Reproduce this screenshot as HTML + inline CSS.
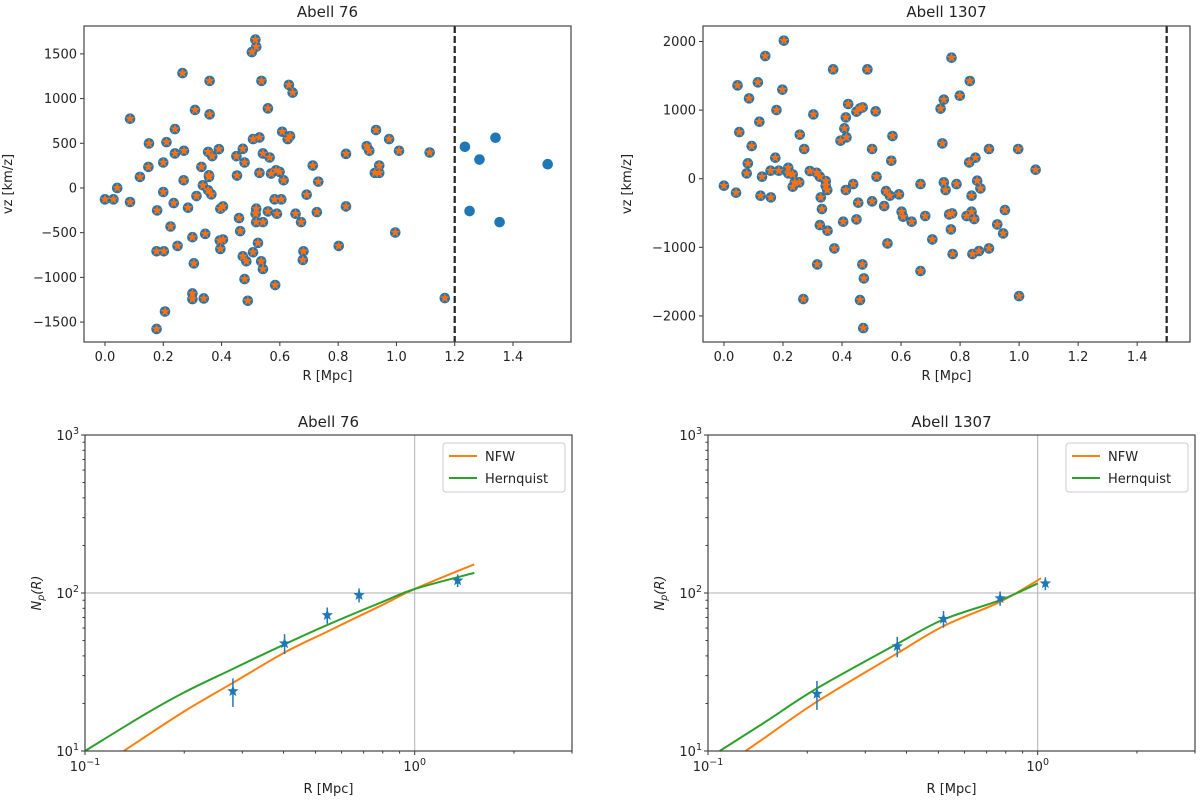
<!DOCTYPE html>
<html><head><meta charset="utf-8"><style>
body{margin:0;background:#fff;}
svg{display:block;font-family:"DejaVu Sans","Liberation Sans",sans-serif;}
</style></head><body>
<svg id="fig" width="1200" height="805" viewBox="0 0 1200 805" xmlns="http://www.w3.org/2000/svg"></svg>
<script>
// ---- Abell 76 velocity data ----
const a76R = [0.516,0.519,0.504,0.266,0.359,0.537,0.631,0.644,0.309,0.359,0.559,0.086,0.240,0.608,0.635,0.627,0.151,0.211,0.508,0.530,0.240,0.271,0.354,0.368,0.391,0.473,0.451,0.479,0.542,0.565,0.149,0.200,0.331,0.120,0.270,0.357,0.357,0.453,0.530,0.570,0.587,0.599,0.613,0.713,0.732,0.827,0.898,0.907,0.930,0.975,1.009,1.114,0.941,0.926,0.941,0.042,0.0,0.029,0.086,0.200,0.336,0.354,0.365,0.314,0.236,0.179,0.285,0.396,0.405,0.519,0.517,0.559,0.590,0.582,0.605,0.654,0.692,0.727,0.827,0.460,0.519,0.542,0.673,0.225,0.464,0.300,0.344,0.394,0.405,0.396,0.249,0.177,0.202,0.525,0.508,0.473,0.485,0.536,0.542,0.681,0.679,0.802,0.996,0.305,0.479,0.584,0.300,0.300,0.339,0.490,1.166,0.206,0.177];
const a76V = [1660,1580,1520,1285,1198,1198,1153,1067,873,824,891,775,659,629,580,547,498,513,547,565,386,416,404,356,434,438,356,285,386,341,236,285,236,124,86,142,124,139,169,161,198,180,86,251,71,382,468,416,648,547,416,397,251,169,169,0,-127,-127,-157,-45,30,-26,-71,-90,-169,-251,-221,-232,-206,-232,-288,-262,-288,-127,-127,-288,-75,-270,-206,-337,-382,-382,-382,-431,-483,-551,-513,-588,-577,-682,-648,-708,-708,-614,-719,-764,-820,-820,-906,-708,-805,-648,-498,-843,-1019,-1086,-1180,-1243,-1236,-1262,-1232,-1382,-1577];
const a76OutR = [1.235,1.340,1.285,1.519,1.251,1.354];
const a76OutV = [461,562,318,266,-258,-382];
const a76Cut = 1.2;
// ---- Abell 1307 velocity data ----
const a1307R = [0.203,0.140,0.771,0.370,0.486,0.046,0.115,0.198,0.833,0.085,0.799,0.745,0.734,0.178,0.303,0.421,0.449,0.461,0.470,0.514,0.413,0.120,0.052,0.257,0.408,0.415,0.395,0.571,0.740,0.094,0.272,0.502,0.898,0.997,0.174,0.567,0.831,0.852,1.056,0.081,0.077,0.129,0.158,0.186,0.218,0.218,0.233,0.240,0.255,0.233,0.291,0.314,0.325,0.345,0.345,0.350,0.517,0.438,0.413,0.666,0.745,0.751,0.788,0.858,0.869,0.839,0.0,0.041,0.124,0.159,0.549,0.562,0.593,0.328,0.332,0.455,0.502,0.543,0.602,0.607,0.636,0.682,0.763,0.773,0.822,0.839,0.848,0.952,0.926,0.946,0.769,0.325,0.351,0.404,0.449,0.706,0.554,0.374,0.775,0.842,0.864,0.898,0.316,0.469,0.666,0.474,0.269,0.461,1.000,0.472];
const a1307V = [2012,1788,1764,1594,1594,1361,1405,1298,1424,1171,1210,1152,1021,1001,938,1089,977,1025,1040,982,894,831,680,642,734,603,554,622,515,476,433,433,433,433,306,262,238,306,131,224,78,29,117,117,160,78,63,-53,-53,-117,112,87,29,-34,-102,-165,29,-78,-165,-78,-53,-165,-78,-29,-141,-248,-102,-204,-248,-272,-180,-248,-228,-272,-442,-350,-330,-399,-481,-554,-627,-544,-520,-505,-544,-481,-588,-457,-666,-797,-739,-676,-758,-627,-593,-885,-943,-1016,-1098,-1098,-1055,-1016,-1249,-1249,-1346,-1453,-1754,-1769,-1711,-2177];
const a1307Cut = 1.5;
// ---- profile data ----
const p76R = [0.281,0.403,0.543,0.678,1.35];
const p76N = [23.9,48,72.4,97,120];
const nfw76X = [0.131,0.2,0.281,0.403,0.543,0.797,1.0,1.516];
const nfw76Y = [10,17.8,27,42,57,84,106,152];
const her76X = [0.1,0.15,0.2,0.28,0.4,0.55,0.8,1.0,1.516];
const her76Y = [10,16.8,23.5,33,47,63.5,88,106,134];
const p1307R = [0.214,0.375,0.518,0.769,1.055];
const p1307N = [23,46,68.6,92.6,115];
const nfw1307X = [0.130,0.150,0.214,0.375,0.518,0.769,1.024];
const nfw1307Y = [10,12.3,20.5,41.5,61.7,88,124];
const her1307X = [0.1085,0.150,0.214,0.375,0.518,0.769,1.0];
const her1307Y = [10,15.4,24.9,47.7,68,90,115];

const NS="http://www.w3.org/2000/svg";
const svg=document.getElementById('fig');
function mk(tag,attrs,parent){const e=document.createElementNS(NS,tag);for(const k in attrs)e.setAttribute(k,attrs[k]);(parent||svg).appendChild(e);return e;}
function txt(s,x,y,attrs,parent){const e=mk('text',Object.assign({x:x,y:y,'font-size':13,fill:'#222'},attrs||{}),parent);e.textContent=s;return e;}
function starPath(cx,cy,r){let d='';for(let i=0;i<10;i++){const rr=i%2?r*0.42:r;const a=-Math.PI/2+i*Math.PI/5;d+=(i?'L':'M')+(cx+rr*Math.cos(a)).toFixed(2)+' '+(cy+rr*Math.sin(a)).toFixed(2);}return d+'Z';}
function smoothPath(P){let d='M'+P[0][0].toFixed(1)+' '+P[0][1].toFixed(1);
  for(let i=0;i<P.length-1;i++){const p0=P[Math.max(0,i-1)],p1=P[i],p2=P[i+1],p3=P[Math.min(P.length-1,i+2)];
    const c1=[p1[0]+(p2[0]-p0[0])/6,p1[1]+(p2[1]-p0[1])/6],c2=[p2[0]-(p3[0]-p1[0])/6,p2[1]-(p3[1]-p1[1])/6];
    d+=' C'+c1[0].toFixed(1)+' '+c1[1].toFixed(1)+' '+c2[0].toFixed(1)+' '+c2[1].toFixed(1)+' '+p2[0].toFixed(1)+' '+p2[1].toFixed(1);}
  return d;}

function scatterPanel(name,box,xr,yr,xt,yt,title,R,V,oR,oV,cut){
  const g=mk('g',{});
  
  
  const sx=v=>box.l+(v-xr[0])/(xr[1]-xr[0])*(box.r-box.l);
  const sy=v=>box.b-(v-yr[0])/(yr[1]-yr[0])*(box.b-box.t);
  const t=txt(title,(box.l+box.r)/2,17,{'text-anchor':'middle','font-size':15},g);
  
  xt.forEach(v=>{const x=sx(v);mk('line',{x1:x,x2:x,y1:box.b,y2:box.b+4,stroke:'#333'},g);
    const l=txt(v.toFixed(1),x,box.b+19,{'text-anchor':'middle'},g);});
  yt.forEach(v=>{const y=sy(v);mk('line',{x1:box.l-4,x2:box.l,y1:y,y2:y,stroke:'#333'},g);
    const l=txt(v<0?'\u2212'+Math.abs(v):String(v),box.l-7,y+4.5,{'text-anchor':'end'},g);});
  const xl=txt('R [Mpc]',(box.l+box.r)/2,box.b+38,{'text-anchor':'middle'},g);
  
  const yc=(box.t+box.b)/2;const yl=txt('vz [km/z]',box.l-72,yc,{'text-anchor':'middle',transform:'rotate(-90 '+(box.l-72)+' '+yc+')'},g);
  
  const pts=mk('g',{},g);
  R.concat(oR).forEach((r,i)=>{const v=i<R.length?V[i]:oV[i-R.length];
    const c=mk('circle',{cx:sx(r),cy:sy(v),r:5.3,fill:'#1f77b4'},pts);});
  R.forEach((r,i)=>{const s=mk('path',{d:starPath(sx(r),sy(V[i]),5.2),fill:'#ff6f0e'},pts);});
  const cx=sx(cut);const dl=mk('line',{x1:cx,x2:cx,y1:box.t,y2:box.b,stroke:'#222','stroke-width':2.2,'stroke-dasharray':'7,3'},g);
  
  mk('rect',{x:box.l,y:box.t,width:box.r-box.l,height:box.b-box.t,fill:'none',stroke:'#444','stroke-width':1.2},g);
}
scatterPanel('abell76-velocity',{l:84,r:571,t:26,b:342},[-0.072,1.599],[-1723,1812],[0,0.2,0.4,0.6,0.8,1.0,1.2,1.4],[1500,1000,500,0,-500,-1000,-1500],'Abell 76',a76R,a76V,a76OutR,a76OutV,a76Cut);
scatterPanel('abell1307-velocity',{l:703,r:1190,t:26,b:342},[-0.071,1.579],[-2380,2226],[0,0.2,0.4,0.6,0.8,1.0,1.2,1.4],[2000,1000,0,-1000,-2000],'Abell 1307',a1307R,a1307V,[],[],a1307Cut);

function supText(base,exp,x,y,anchor,g){const t=mk('text',{x:x,y:y,'font-size':13,fill:'#222','text-anchor':anchor},g);
  const a=document.createElementNS(NS,'tspan');a.textContent=base;t.appendChild(a);
  const b=document.createElementNS(NS,'tspan');b.setAttribute('dy','-6');b.setAttribute('font-size','9.5');b.textContent=exp;t.appendChild(b);
  return t;}

function profilePanel(name,box,title,pr,pn,nx,ny,hx,hy){
  const g=mk('g',{});
  
  
  const lx0=-1,lx1=Math.log10(3),ly0=1,ly1=3;
  const sx=v=>box.l+(Math.log10(v)-lx0)/(lx1-lx0)*(box.r-box.l);
  const sy=v=>box.b-(Math.log10(v)-ly0)/(ly1-ly0)*(box.b-box.t);
  const t=txt(title,(box.l+box.r)/2,box.t-8,{'text-anchor':'middle','font-size':15},g);
  
  [1].forEach(v=>mk('line',{x1:sx(v),x2:sx(v),y1:box.t,y2:box.b,stroke:'#b0b0b0','stroke-width':1},g));
  [100].forEach(v=>mk('line',{x1:box.l,x2:box.r,y1:sy(v),y2:sy(v),stroke:'#b0b0b0','stroke-width':1},g));
  [0.1,1].forEach(v=>{mk('line',{x1:sx(v),x2:sx(v),y1:box.b,y2:box.b+4,stroke:'#333'},g);});
  supText('10','\u22121',sx(0.1),box.b+20,'middle',g);supText('10','0',sx(1),box.b+20,'middle',g);
  [0.2,0.3,0.4,0.5,0.6,0.7,0.8,0.9,2,3].forEach(v=>mk('line',{x1:sx(v),x2:sx(v),y1:box.b,y2:box.b+2.5,stroke:'#333'},g));
  [10,100,1000].forEach((v,i)=>{mk('line',{x1:box.l-4,x2:box.l,y1:sy(v),y2:sy(v),stroke:'#333'},g);supText('10',String(i+1),box.l-6,sy(v)+5,'end',g);});
  for(let d=10;d<1000;d*=10)for(let k=2;k<10;k++)mk('line',{x1:box.l-2.5,x2:box.l,y1:sy(d*k),y2:sy(d*k),stroke:'#333'},g);
  const xl=txt('R [Mpc]',(box.l+box.r)/2,box.b+42,{'text-anchor':'middle'},g);
  const yc=(box.t+box.b)/2,yx=box.l-44;
  const yl=mk('text',{x:yx,y:yc,'font-size':13,fill:'#222','text-anchor':'middle','font-style':'italic',transform:'rotate(-90 '+yx+' '+yc+')'},g);
  yl.innerHTML='N<tspan font-size="9.5" dy="3">p</tspan><tspan dy="-3">(R)</tspan>';
  
  const line=(xs,ys,col,nm)=>{const p=mk('path',{d:smoothPath(xs.map((x,i)=>[sx(x),sy(ys[i])])),fill:'none',stroke:col,'stroke-width':2},g);};
  line(nx,ny,'#ff7f0e','nfw-curve');line(hx,hy,'#2ca02c','hernquist-curve');
  pr.forEach((r,i)=>{const x=sx(r),n=pn[i],e=Math.sqrt(n);
    const eb=mk('line',{x1:x,x2:x,y1:sy(n+e),y2:sy(n-e),stroke:'#1f77b4','stroke-width':1.5},g);
    const s=mk('path',{d:starPath(x,sy(n),6),fill:'#1f77b4'},g);});
  mk('rect',{x:box.l,y:box.t,width:box.r-box.l,height:box.b-box.t,fill:'none',stroke:'#444','stroke-width':1.2},g);
  const lg=mk('g',{},g);
  const lx=box.r-129,ly=box.t+8;
  mk('rect',{x:lx,y:ly,width:122,height:49,rx:3,fill:'#fff',stroke:'#ccc'},lg);
  mk('line',{x1:lx+6,x2:lx+34,y1:ly+13,y2:ly+13,stroke:'#ff7f0e','stroke-width':2},lg);
  const e1=txt('NFW',lx+42,ly+18,{},lg);
  mk('line',{x1:lx+6,x2:lx+34,y1:ly+35,y2:ly+35,stroke:'#2ca02c','stroke-width':2},lg);
  const e2=txt('Hernquist',lx+42,ly+40,{},lg);
}
profilePanel('abell76-profile',{l:85,r:572,t:435,b:751},'Abell 76',p76R,p76N,nfw76X,nfw76Y,her76X,her76Y);
profilePanel('abell1307-profile',{l:708,r:1195,t:435,b:751},'Abell 1307',p1307R,p1307N,nfw1307X,nfw1307Y,her1307X,her1307Y);
</script>
</body></html>
